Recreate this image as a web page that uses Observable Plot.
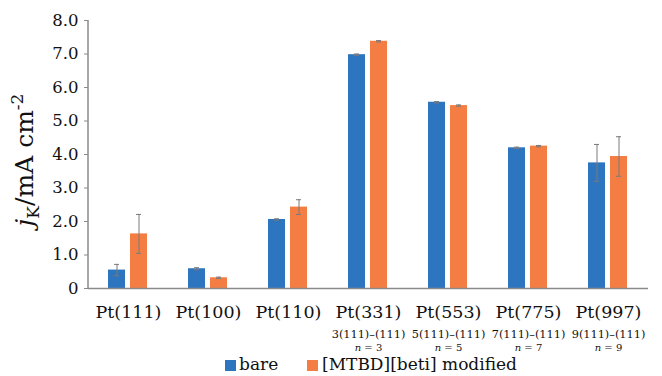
<!DOCTYPE html>
<html><head><meta charset="utf-8">
<script src="https://cdn.jsdelivr.net/npm/d3@7"></script>
<script src="https://cdn.jsdelivr.net/npm/@observablehq/plot@0.6"></script>
<style>
body{margin:0;background:#fff;font-family:"DejaVu Serif",serif;}
#wrap{position:relative;width:662px;height:376px;overflow:hidden;}
#legend .sw{position:absolute;width:11px;height:11px;top:360px;}
#legend .tx{position:absolute;top:354px;font-size:17px;line-height:20px;color:#111;white-space:nowrap;}
</style></head><body><div id="wrap"></div>
<script>
const categories = ["Pt(111)","Pt(100)","Pt(110)","Pt(331)","Pt(553)","Pt(775)","Pt(997)"];
const subLabels = ["","","","3(111)–(111)","5(111)–(111)","7(111)–(111)","9(111)–(111)"];
const nLabels = ["","","","3","5","7","9"];
const series = ["bare","[MTBD][beti] modified"];
const bareValues = [0.55,0.59,2.06,6.98,5.56,4.20,3.75];
const bareErrors = [0.17,0.03,0.02,0.02,0.02,0.02,0.55];
const modValues = [1.63,0.32,2.43,7.38,5.46,4.25,3.94];
const modErrors = [0.58,0.02,0.22,0.02,0.02,0.02,0.59];
const yTicks = [0,1,2,3,4,5,6,7,8];
const colors = ["#2E75C0","#F47D43"];

const rows = [];
categories.forEach((c,i)=>{
  rows.push({cat:c, series:series[0], value:bareValues[i], err:bareErrors[i]});
  rows.push({cat:c, series:series[1], value:modValues[i], err:modErrors[i]});
});
const labelRows = categories.map((c,i)=>({cat:c, sub:subLabels[i], n:nLabels[i]}));
const subRows = labelRows.filter(d=>d.sub);

const font = "DejaVu Serif";
const plot = Plot.plot({
  width:662, height:376, marginTop:20, marginBottom:88, marginLeft:88, marginRight:14,
  style:{fontFamily:font, background:"#fff", color:"#111"},
  fx:{domain:categories, padding:0, axis:null},
  x:{domain:series, paddingInner:0.217, paddingOuter:0.848, axis:null},
  y:{domain:[0,8], axis:null},
  color:{domain:series, range:colors},
  marks:[
    Plot.axisY({ticks:yTicks, tickFormat:d=>d===0?"0":d.toFixed(1), tickSize:4, tickPadding:6, fontSize:16.5, label:null, stroke:"#8a8a8a", fill:"#111"}),
    Plot.barY(rows,{fx:"cat", x:"series", y:"value", fill:"series"}),
    Plot.ruleX(rows,{fx:"cat", x:"series", y1:d=>d.value-d.err, y2:d=>d.value+d.err, stroke:"#7a7a7a", strokeWidth:1}),
    Plot.tickY(rows,{fx:"cat", x:"series", y:d=>d.value+d.err, insetLeft:6, insetRight:6, stroke:"#7a7a7a"}),
    Plot.tickY(rows,{fx:"cat", x:"series", y:d=>d.value-d.err, insetLeft:6, insetRight:6, stroke:"#7a7a7a"}),
    Plot.ruleY([0],{stroke:"#8a8a8a", strokeWidth:1.5}),
    Plot.text(labelRows,{fx:"cat", text:"cat", frameAnchor:"bottom", lineAnchor:"bottom", dy:29, fontSize:17.5, fill:"#111"}),
    Plot.text(subRows,{fx:"cat", text:"sub", frameAnchor:"bottom", lineAnchor:"bottom", dy:49, fontSize:11.3, fill:"#111"}),
    Plot.text(subRows,{fx:"cat", text:d=>"n = "+d.n, frameAnchor:"bottom", lineAnchor:"bottom", dy:62, fontSize:10, fill:"#111"})
  ]
});

const svg = d3.select(plot);
const ys = plot.scale("y");
const y0 = ys.apply(0), y8 = ys.apply(8);
svg.append("line").attr("x1",88).attr("x2",88).attr("y1",y0+0.75).attr("y2",y8)
  .attr("stroke","#8a8a8a").attr("stroke-width",1.5);

svg.selectAll("text").each(function(){
  const t = d3.select(this);
  const s = t.text();
  if (/^n = \d$/.test(s)) {
    t.text(null);
    t.append("tspan").attr("font-style","italic").text("n");
    t.append("tspan").text(s.slice(1));
  }
});

const title = svg.append("text")
  .attr("transform","translate(33,160) rotate(-90)")
  .attr("text-anchor","middle").attr("font-size",25).attr("font-family",font).attr("fill","#111");
title.append("tspan").attr("font-style","italic").text("j");
title.append("tspan").attr("font-size",17).attr("dy",6).text("K");
title.append("tspan").attr("dy",-6).text("/mA cm");
title.append("tspan").attr("font-size",17).attr("dy",-10).text("-2");

const wrap = document.getElementById("wrap");
wrap.appendChild(plot);
const legend = document.createElement("div");
legend.id = "legend";
const swX = [225, 307], txX = [239, 322];
series.forEach((s,i)=>{
  const sw = document.createElement("span"); sw.className="sw"; sw.style.background=colors[i]; sw.style.left=swX[i]+"px";
  const tx = document.createElement("span"); tx.className="tx"; tx.textContent = s; tx.style.left=txX[i]+"px";
  legend.appendChild(sw); legend.appendChild(tx);
});
wrap.appendChild(legend);
</script></body></html>
